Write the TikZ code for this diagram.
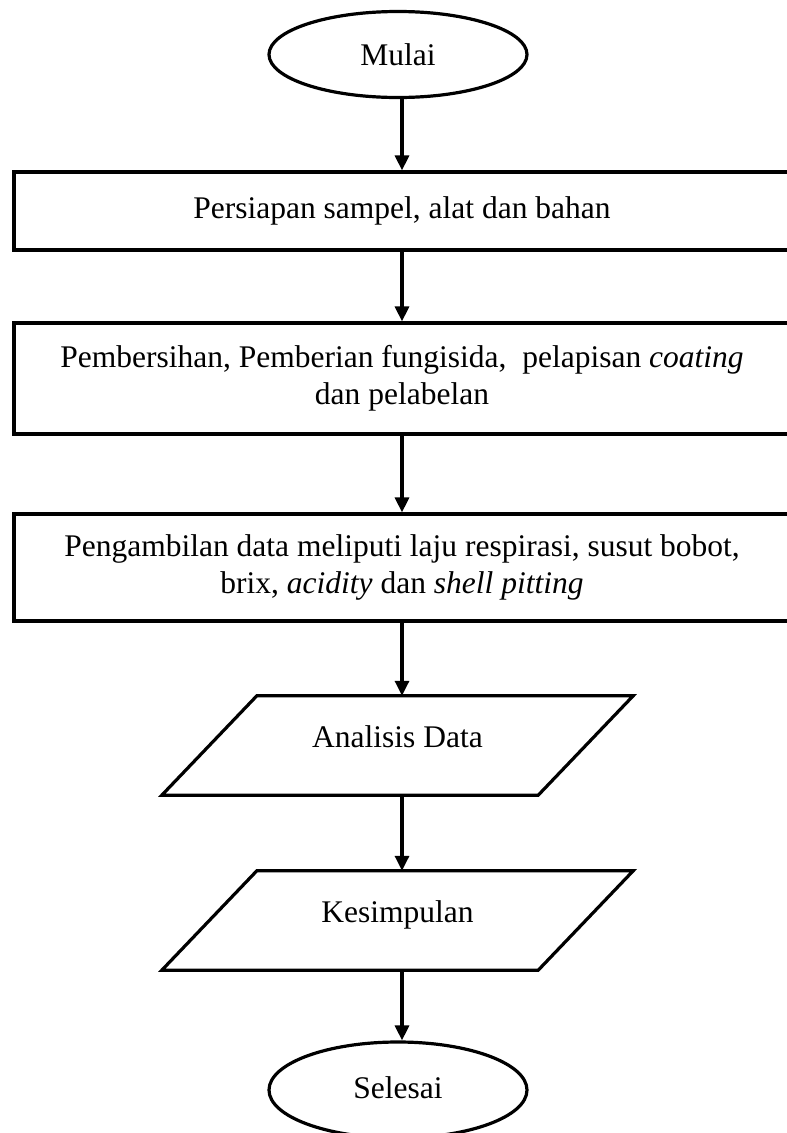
\documentclass[tikz,border=0pt]{standalone}
\usepackage{fontspec}
\setmainfont{Liberation Serif}
\usetikzlibrary{shapes.geometric,arrows.meta}
\begin{document}
\begin{tikzpicture}[x=1pt,y=-1pt,
  every node/.style={font=\fontsize{31.5}{37}\selectfont, align=center, inner sep=0pt},
  terminal/.style={draw, line width=3.2pt, ellipse, minimum width=258pt, minimum height=86pt},
  procbox/.style={draw, line width=3.2pt, rectangle, minimum width=776pt},
  iobox/.style={rectangle, minimum width=376pt, minimum height=99pt},
  ioline/.style={line width=3.2pt, line join=miter},
  arr/.style={line width=3.2pt, -{Triangle[length=15pt,width=14pt]}}
]
\useasboundingbox (0,0) rectangle (787,1133);
\clip (0,0) rectangle (787,1133);
\node[terminal] (mulai) at (398,54.5) {Mulai};
\node[procbox, minimum height=78pt] (r1) at (402,211) {Persiapan sampel, alat dan bahan};
\node[procbox, minimum height=111pt] (r2) at (402,378.5) {Pembersihan, Pemberian fungisida,~ pelapisan \textit{coating}\\dan pelabelan};
\node[procbox, minimum height=107pt] (r3) at (402,567.5) {Pengambilan data meliputi laju respirasi, susut bobot,\\brix, \textit{acidity} dan \textit{shell pitting}};
\node[iobox] (ad) at (397.5,745.5) {};
\node[yshift=9pt] (adt) at (ad.center) {Analisis Data};
\draw[ioline] ([xshift=47.5pt]ad.north west) -- ([xshift=47.5pt]ad.north east) -- ([xshift=-47.5pt]ad.south east) -- ([xshift=-47.5pt]ad.south west) -- cycle;
\node[iobox] (ks) at (397.5,920.5) {};
\node[yshift=6pt] (kst) at (ks.center) {Kesimpulan};
\draw[ioline] ([xshift=47.5pt]ks.north west) -- ([xshift=47.5pt]ks.north east) -- ([xshift=-47.5pt]ks.south east) -- ([xshift=-47.5pt]ks.south west) -- cycle;
\node[terminal, minimum height=96pt] (selesai) at (398,1090) {};
\node[yshift=2.5pt] (selesait) at (selesai.center) {Selesai};
\draw[arr] (mulai.south -| r1.north) -- (r1.north);
\draw[arr] (r1.south) -- (r2.north);
\draw[arr] (r2.south) -- (r3.north);
\draw[arr] (r3.south) -- (r3.south |- ad.north);
\draw[arr] (ad.south -| r3.south) -- (ks.north -| r3.south);
\draw[arr] (ks.south -| r3.south) -- (selesai.north -| r3.south);
\end{tikzpicture}
\end{document}
